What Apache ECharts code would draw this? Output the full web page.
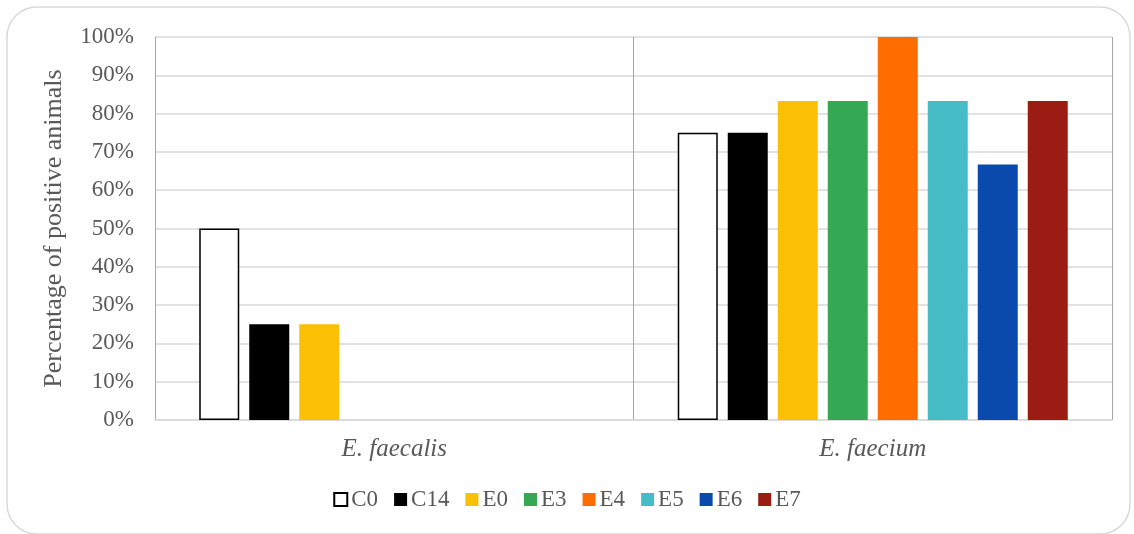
<!DOCTYPE html>
<html>
<head>
<meta charset="utf-8">
<script src="https://cdn.jsdelivr.net/npm/echarts@6/dist/echarts.min.js"></script>
<style>
html,body{margin:0;padding:0;background:#fff;}
#chart{width:1134px;height:534px;}
</style>
</head>
<body>
<div id="chart"></div>
<script>
const categories = ['E. faecalis', 'E. faecium'];
const seriesNames = ['C0', 'C14', 'E0', 'E3', 'E4', 'E5', 'E6', 'E7'];
const C0 = [50, 75];
const C14 = [25, 75];
const E0 = [25, 83.3];
const E3 = [0, 83.3];
const E4 = [0, 100];
const E5 = [0, 83.3];
const E6 = [0, 66.7];
const E7 = [0, 83.3];
const seriesValues = [C0, C14, E0, E3, E4, E5, E6, E7];
const yTicks = [0, 10, 20, 30, 40, 50, 60, 70, 80, 90, 100];

const colors = ['#ffffff', '#000000', '#fbbf05', '#34a853', '#ff6d01', '#46bdc6', '#0b4aad', '#9a1c13'];
const font = 'Liberation Serif';
const textColor = '#595959';

const chart = echarts.init(document.getElementById('chart'));
const series = seriesNames.map((n, i) => ({
  name: n,
  type: 'bar',
  data: seriesValues[i],
  barWidth: 40,
  barGap: '25%',
  itemStyle: i === 0 ? { color: '#ffffff', borderColor: '#000000', borderWidth: 1.5 } : { color: colors[i] }
}));

chart.setOption({
  animation: false,
  textStyle: { fontFamily: font },
  graphic: [{
    type: 'rect',
    shape: { x: 7, y: 7, width: 1123, height: 527, r: 30 },
    style: { fill: 'none', stroke: '#d9d9d9', lineWidth: 1.5 },
    z: -10
  }],
  legend: {
    top: 483,
    left: 'center',
    itemWidth: 13,
    itemHeight: 13,
    itemGap: 16,
    icon: 'rect',
    textStyle: { fontFamily: font, fontSize: 23, color: textColor, padding: [0, 0, 0, -1] },
    data: seriesNames
  },
  grid: { left: 155, right: 22, top: 37, bottom: 114 },
  xAxis: {
    type: 'category',
    data: categories,
    axisLine: { show: true, lineStyle: { color: '#d9d9d9', width: 1.5 } },
    axisTick: { show: false },
    splitLine: { show: true, lineStyle: { color: '#a6a6a6', width: 1 } },
    axisLabel: { fontFamily: font, fontSize: 25, fontStyle: 'italic', color: textColor, margin: 17 }
  },
  yAxis: {
    type: 'value',
    min: 0,
    max: 100,
    interval: 10,
    name: 'Percentage of positive animals',
    nameLocation: 'middle',
    nameGap: 88,
    nameRotate: 90,
    nameTextStyle: { fontFamily: font, fontSize: 26, color: textColor },
    axisLine: { show: false },
    axisTick: { show: false },
    splitLine: { show: true, lineStyle: { color: '#d9d9d9', width: 1.5 } },
    axisLabel: { fontFamily: font, fontSize: 23, color: textColor, margin: 21, formatter: v => yTicks.includes(v) ? v + '%' : '' }
  },
  series: series
});
</script>
</body>
</html>
